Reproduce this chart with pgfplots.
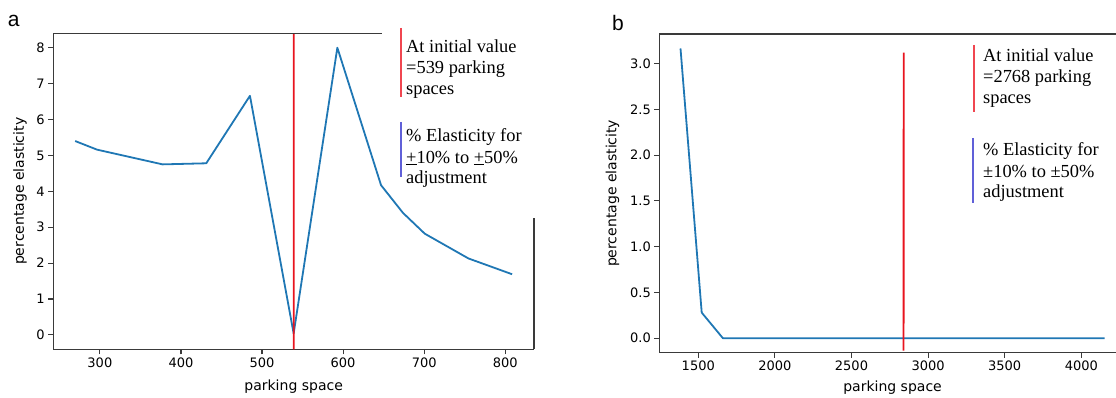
\documentclass[border=0pt]{standalone}
\usepackage{pgfplots}
\pgfplotsset{compat=1.18}
\usepackage{fontspec}
\setmainfont{DejaVu Sans}
\newfontfamily\seriffont{Liberation Serif}
\newfontfamily\arialfont{Liberation Sans}
\definecolor{mplblue}{HTML}{1F77B4}
\definecolor{vred}{HTML}{E8141E}
\definecolor{lred}{HTML}{F04650}
\definecolor{lblue}{HTML}{6060D8}
\definecolor{spine}{HTML}{3A3A3A}

\pgfplotstableread{
x y
269.5 5.40
296.5 5.16
377.3 4.75
431.2 4.78
485.1 6.66
539.0 0.04
592.9 8.00
646.8 4.17
673.8 3.40
700.7 2.82
754.6 2.13
808.5 1.69
}\dataA

\pgfplotstableread{
x y
1384.0 3.165
1522.4 0.28
1660.8 0.0
1937.6 0.0
2214.4 0.0
2491.2 0.0
2768.0 0.0
3044.8 0.0
3321.6 0.0
3598.4 0.0
3875.2 0.0
4152.0 0.0
}\dataB

\pgfplotsset{
  mystyle/.style={
    scale only axis,
    clip=false,
    tick align=outside,
    major tick length=5pt,
    xtick pos=left, ytick pos=left,
    every tick/.style={draw=spine, line width=1.1pt},
    axis line style={draw=spine, line width=1.2pt},
    tick label style={font=\fontsize{13}{13}\selectfont},
    label style={font=\fontsize{14}{14}\selectfont},
    /pgf/number format/assume math mode=true,
    /pgf/number format/1000 sep={},
  }
}

\begin{document}
\begin{tikzpicture}[x=1pt,y=1pt]
\useasboundingbox (0,0) rectangle (1116,397);
\clip (0,0) rectangle (1116,397);

% ---------- panel a ----------
\begin{axis}[mystyle,
  at={(53.3pt,47.7pt)}, anchor=south west,
  width=480.7pt, height=316pt,
  xmin=242.55, xmax=835.45, ymin=-0.4, ymax=8.4,
  xtick={300,400,...,800}, ytick={0,1,...,8},
  axis x line*=bottom, axis y line*=left,
  x axis line style={-}, y axis line style={-},
  xlabel={parking space}, ylabel={percentage elasticity},
  xlabel style={at={(axis description cs:0.5,-0.1193)}, anchor=center},
  ylabel style={at={(axis description cs:-0.0693,0.5)}, anchor=center},
]
\addplot[draw=mplblue, line width=1.8pt, line join=round] table[x=x,y=y] {\dataA};
\addplot[vred, line width=1.7pt] coordinates {(539,-0.4) (539.1,8.4)};
\draw[draw=spine, line width=1.2pt] (axis cs:242.55,8.4) -- (axis cs:648,8.4);
\draw[draw=spine, line width=1.2pt] (axis cs:835.45,-0.4) -- (axis cs:835.45,3.25);
\end{axis}

% ---------- panel b ----------
\begin{axis}[mystyle,
  at={(659.3pt,44.3pt)}, anchor=south west,
  width=466.5pt, height=318.7pt,
  xmin=1245.6, xmax=4290.4, ymin=-0.158, ymax=3.323,
  xtick={1500,2000,...,4000}, ytick={0,0.5,...,3.0},
  yticklabel style={/pgf/number format/.cd, fixed, fixed zerofill, precision=1},
  scaled y ticks=false,
  xlabel={parking space}, ylabel={percentage elasticity},
  xlabel style={at={(axis description cs:0.5,-0.1108)}, anchor=center},
  ylabel style={at={(axis description cs:-0.1003,0.5)}, anchor=center},
]
\addplot[draw=mplblue, line width=1.8pt, line join=round] table[x=x,y=y] {\dataB};
\addplot[vred, line width=1.8pt] coordinates {(2840,-0.134) (2840.5,3.12)};
\end{axis}

% ---------- panel letters ----------
\node[anchor=base, inner sep=0, font=\arialfont\fontsize{21}{21}\selectfont] at (13.7,370.3) {a};
\node[anchor=base, inner sep=0, font=\arialfont\fontsize{21}{21}\selectfont] at (618,366.3) {b};

% ---------- annotation texts ----------
\begin{scope}[every node/.style={anchor=base west, inner sep=0, font=\seriffont\fontsize{18.4}{22}\selectfont}]
\node at (406,344) {At initial value};
\node at (406,323) {=539 parking};
\node at (406,302) {spaces};
\node at (406,255.3) {\% Elasticity for};
\node at (406,234) {\underline{+}10\% to \underline{+}50\%};
\node at (406,214) {adjustment};
\node at (983,335.3) {At initial value};
\node at (983,314) {=2768 parking};
\node at (983,293) {spaces};
\node at (983,242) {\% Elasticity for};
\node at (983,220) {±10\% to ±50\%};
\node at (983,200) {adjustment};
\end{scope}
% ---------- annotation marker lines ----------
\draw[draw=lred, line width=1.4pt] (401,369) -- (401,300);
\draw[draw=lblue, line width=1.4pt] (401,275) -- (401,220);
\draw[draw=lred, line width=1.4pt] (974,352) -- (974,285);
\draw[draw=lblue, line width=1.4pt] (973,259) -- (973,194);
\end{tikzpicture}
\end{document}
